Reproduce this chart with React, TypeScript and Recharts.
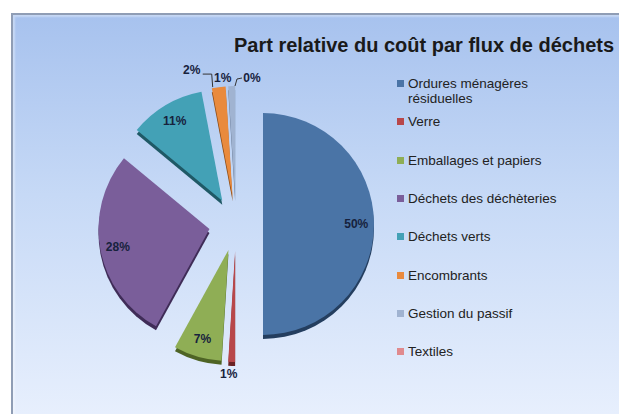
import React from 'react';
import { PieChart, Pie, Cell, Sector, Legend } from 'recharts';

const categories = [
  'Ordures ménagères résiduelles',
  'Verre',
  'Emballages et papiers',
  'Déchets des déchèteries',
  'Déchets verts',
  'Encombrants',
  'Gestion du passif',
  'Textiles',
];
const shares = [50, 1, 7, 28, 11, 2, 1, 0];
const colors = ['#4a74a6', '#b8474a', '#8fae55', '#7a5e9a', '#43a1b6', '#e98a3d', '#a0b3d1', '#e08a8e'];
const edgeColors = ['#243e5f', '#6a2224', '#4e6425', '#3f2c57', '#1f5966', '#8a4a15', '#5d6e89', '#8a4a4d'];

const data = categories.map((name, i) => ({ name, value: shares[i] }));

const CX = 236;
const CY = 224;
const R = 111;
const EXPLODE = 27;

const dirOf = (midAngle: number) => {
  const rad = (-midAngle * Math.PI) / 180;
  return { x: Math.cos(rad), y: Math.sin(rad) };
};

const ExplodedSlice = (props: any) => {
  const { cx, cy, midAngle, innerRadius, outerRadius, startAngle, endAngle, fill } = props;
  const d = dirOf(midAngle);
  const idx = colors.indexOf(fill);
  const edge = idx >= 0 ? edgeColors[idx] : '#333';
  return (
    <g transform={`translate(${d.x * EXPLODE},${d.y * EXPLODE})`}>
      <Sector cx={cx} cy={cy + 4} innerRadius={innerRadius} outerRadius={outerRadius}
        startAngle={startAngle} endAngle={endAngle} fill={edge} />
      <Sector cx={cx} cy={cy} innerRadius={innerRadius} outerRadius={outerRadius}
        startAngle={startAngle} endAngle={endAngle} fill={fill} />
    </g>
  );
};

// small slices get their label outside, shifted from the slice tip
const outsideShift: Record<string, [number, number]> = {
  'Verre': [-3, 12],
  'Encombrants': [-27, -17],
  'Gestion du passif': [-9, -8],
  'Textiles': [16, -8],
};

const renderLabel = (props: any) => {
  const { cx, cy, midAngle, outerRadius, percent, name } = props;
  const d = dirOf(midAngle);
  const text = `${Math.round(percent * 100)}%`;
  const style = { fontFamily: 'Liberation Sans, Arial, sans-serif', fontSize: 12, fontWeight: 700 };
  const shift = outsideShift[name];
  if (!shift) {
    const r = outerRadius * 0.84;
    const x = cx + d.x * (r + EXPLODE);
    const y = cy + d.y * (r + EXPLODE);
    return (
      <text x={x} y={y} textAnchor="middle" dominantBaseline="central" fill="#17223d" style={style}>
        {text}
      </text>
    );
  }
  const tipX = cx + d.x * (outerRadius + EXPLODE);
  const tipY = cy + d.y * (outerRadius + EXPLODE);
  const x = tipX + shift[0];
  const y = tipY + shift[1];
  let line = null;
  if (name === 'Encombrants') {
    line = <polyline points={`${x + 11},${y + 4} ${tipX - 7},${y + 4} ${tipX - 6},${tipY}`} fill="none" stroke="#333" strokeWidth={1} />;
  }
  if (name === 'Textiles') {
    line = <polyline points={`${x - 10},${y} ${tipX + 1},${y + 1} ${tipX - 1},${tipY}`} fill="none" stroke="#333" strokeWidth={1} />;
  }
  return (
    <g>
      {line}
      <text x={x} y={y} textAnchor="middle" dominantBaseline="central" fill="#17223d" style={style}>
        {text}
      </text>
    </g>
  );
};

const LegendContent = (props: any) => {
  const items = [...(props.payload || [])].sort(
    (a: any, b: any) => categories.indexOf(a.value) - categories.indexOf(b.value)
  );
  return (
    <div style={{ position: 'relative', fontFamily: 'Liberation Sans, Arial, sans-serif', fontSize: 13.5, color: '#222' }}>
      {items.map((entry: any, i: number) => (
        <div key={`leg-${i}`} style={{ position: 'absolute', left: 0, top: i * 38.3, display: 'flex', alignItems: 'flex-start' }}>
          <span style={{ width: 7, height: 7, background: entry.color, marginTop: 4, marginRight: 4, flexShrink: 0 }} />
          <span style={{ width: 165, lineHeight: '15px' }}>{entry.value}</span>
        </div>
      ))}
    </div>
  );
};

export default function App() {
  return (
    <div style={{ position: 'absolute', left: 0, top: 0, width: 619, height: 417, overflow: 'hidden', background: '#fff' }}>
      <div style={{
        position: 'absolute', left: 11, top: 13, width: 620, height: 399,
        borderLeft: '2px solid #8f9db5', borderTop: '2px solid #8f9db5',
        background: 'linear-gradient(to bottom, #a7c2ee 0%, #c6d9f6 45%, #e7effd 100%)',
        boxShadow: 'inset 2px 2px 2px rgba(255,255,255,0.35)',
      }} />
      <div style={{
        position: 'absolute', left: 226, top: 34, width: 396, textAlign: 'center',
        fontFamily: 'Liberation Sans, Arial, sans-serif', fontSize: 20, fontWeight: 700, color: '#1a1a1a',
        whiteSpace: 'nowrap',
      }}>
        Part relative du coût par flux de déchets
      </div>
      <div style={{ position: 'absolute', left: 0, top: 0 }}>
        <PieChart width={619} height={417} margin={{ top: 0, right: 0, bottom: 0, left: 0 }}>
          <Pie
            data={data}
            dataKey="value"
            nameKey="name"
            cx={CX}
            cy={CY}
            outerRadius={R}
            startAngle={90}
            endAngle={-270}
            stroke="none"
            shape={ExplodedSlice}
            label={renderLabel}
            labelLine={false}
            isAnimationActive={false}
          >
            {data.map((_, i) => (
              <Cell key={`cell-${i}`} fill={colors[i]} />
            ))}
          </Pie>
          <Legend
            content={<LegendContent />}
            layout="vertical"
            wrapperStyle={{ position: 'absolute', left: 397, top: 76, width: 210, height: 300 }}
          />
        </PieChart>
      </div>
    </div>
  );
}
